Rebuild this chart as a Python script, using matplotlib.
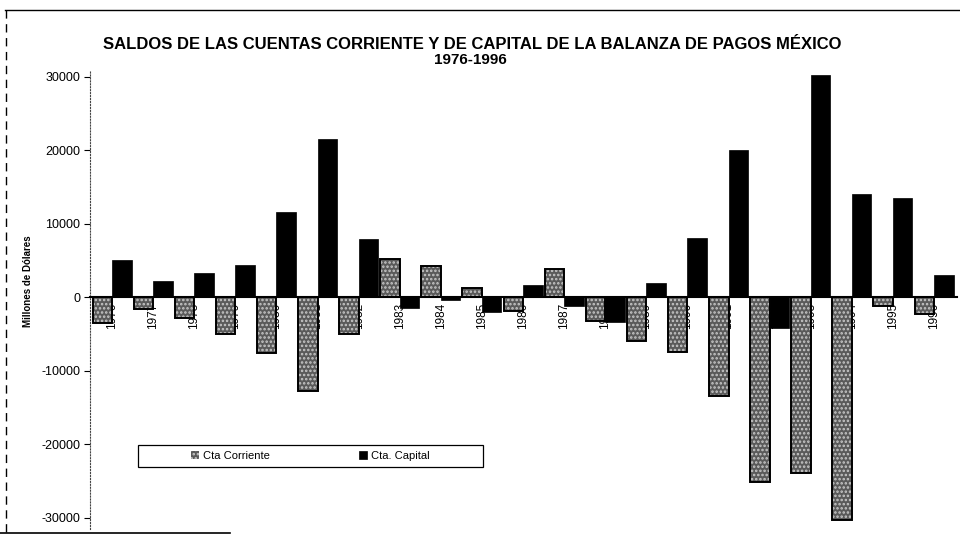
import numpy as np
import matplotlib
matplotlib.use('Agg')
import matplotlib.pyplot as plt
from matplotlib.patches import Rectangle
from matplotlib.lines import Line2D

plt.rcParams['font.family'] = ['Liberation Sans', 'DejaVu Sans']
plt.rcParams['hatch.linewidth'] = 1.2
plt.rcParams['axes.unicode_minus'] = False

# Datos (millones de dolares)
years = [str(y) for y in range(1976, 1997)]
corriente = [-3500, -1600, -2800, -5000, -7500, -12700, -5000, 5300, 4300, 1300,
             -1800, 3900, -3200, -5900, -7400, -13400, -25100, -23900, -30300,
             -1100, -2300]
capital = [5100, 2200, 3300, 4400, 11600, 21600, 8000, -1400, -300, -2000,
           1700, -1100, -3400, 1900, 8100, 20000, -4100, 30300, 14100, 13500,
           3100]

x = np.arange(len(years))
w = 0.475

fig = plt.figure(figsize=(9.6, 5.4), dpi=100)
ax = fig.add_axes([0.0938, 0.0204, 0.9027, 0.8507])

# Eje horizontal en cero (antes de fijar las etiquetas)
ax.spines['bottom'].set_position(('data', 0))
ax.spines['bottom'].set_linewidth(1.5)
ax.spines['bottom'].set_zorder(4)
ax.spines['top'].set_visible(False)
ax.spines['right'].set_visible(False)
ax.spines['left'].set_linestyle(':')
ax.spines['left'].set_color('#444444')

# Cta Corriente: gris punteado con borde negro
b1 = ax.bar(x - w/2, corriente, w, color='#5a5a5a', edgecolor='#c8c8c8',
            hatch='....', linewidth=0, zorder=2, label='Cta Corriente')
ax.bar(x - w/2, corriente, w, fill=False, edgecolor='black', linewidth=1.4,
       zorder=3)
# Cta. Capital: negro
b2 = ax.bar(x + w/2, capital, w, color='black', edgecolor='black',
            linewidth=0.5, zorder=2, label='Cta. Capital')

ax.set_xlim(-0.535, 20.55)
ax.set_ylim(-31500, 31000)
ax.set_yticks(np.arange(-30000, 30001, 10000))
ax.set_xticks(x)
ax.set_xticklabels(years, rotation=90, fontsize=8.5, va='top', ha='center')
ax.tick_params(axis='x', length=0, pad=4)
ax.tick_params(axis='y', direction='out', length=4, labelsize=9, pad=3)
ax.set_axisbelow(True)

ax.set_ylabel('Millones de Dólares', fontsize=7, fontweight='bold')
ax.yaxis.set_label_coords(-0.066, 0.54)

# Leyenda con marco propio
ax.add_patch(Rectangle((0.0554, 0.135), 0.398, 0.048, transform=ax.transAxes,
                       fill=False, edgecolor='black', linewidth=0.9,
                       zorder=5, clip_on=False))
ax.legend(handles=[b1, b2], loc='center', bbox_to_anchor=(0.2545, 0.159),
          ncol=2, frameon=False, fontsize=8, handlelength=0.7,
          handleheight=0.7, handletextpad=0.4, columnspacing=8)

fig.text(0.492, 0.918, 'SALDOS DE LAS CUENTAS CORRIENTE Y DE CAPITAL DE LA '
         'BALANZA DE PAGOS MÉXICO', ha='center', va='center', fontsize=12,
         fontweight='bold')
fig.text(0.49, 0.888, '1976-1996', ha='center', va='center', fontsize=11,
         fontweight='bold')

# Marco del grafico
fig.add_artist(Line2D([0.005, 1.0], [0.982, 0.982], color='black', lw=1))
fig.add_artist(Line2D([0.006, 0.006], [0.015, 0.982], color='black', lw=1,
                      linestyle=(0, (6, 4))))
fig.add_artist(Line2D([0.0, 0.24], [0.013, 0.013], color='black', lw=1.2))

fig.savefig('out.png', dpi=100)
